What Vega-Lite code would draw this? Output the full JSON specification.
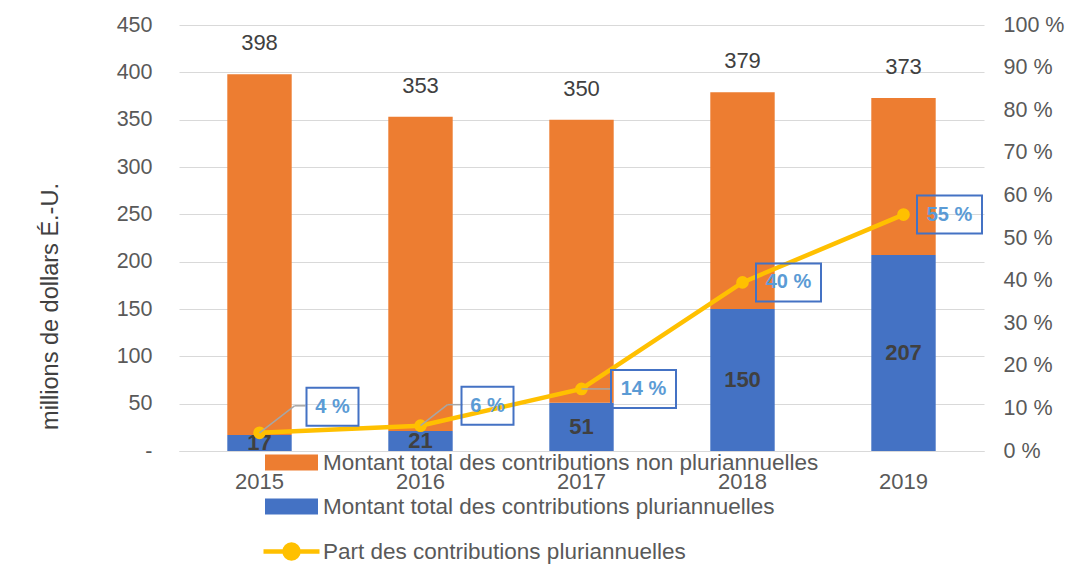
{
  "$schema": "https://vega.github.io/schema/vega-lite/v6.json",
  "width": 805,
  "height": 426,
  "autosize": {"type": "none"},
  "padding": {"left": 179, "top": 25, "right": 85, "bottom": 131},
  "background": "#ffffff",
  "config": {
    "view": {"stroke": null},
    "font": "Liberation Sans",
    "axis": {"labelFont": "Liberation Sans", "titleFont": "Liberation Sans"},
    "legend": {"labelFont": "Liberation Sans"}
  },
  "datasets": {
    "bars": [
      {"year": "2015", "serie": "Montant total des contributions pluriannuelles", "value": 17},
      {"year": "2015", "serie": "Montant total des contributions non pluriannuelles", "value": 381},
      {"year": "2016", "serie": "Montant total des contributions pluriannuelles", "value": 21},
      {"year": "2016", "serie": "Montant total des contributions non pluriannuelles", "value": 332},
      {"year": "2017", "serie": "Montant total des contributions pluriannuelles", "value": 51},
      {"year": "2017", "serie": "Montant total des contributions non pluriannuelles", "value": 299},
      {"year": "2018", "serie": "Montant total des contributions pluriannuelles", "value": 150},
      {"year": "2018", "serie": "Montant total des contributions non pluriannuelles", "value": 229},
      {"year": "2019", "serie": "Montant total des contributions pluriannuelles", "value": 207},
      {"year": "2019", "serie": "Montant total des contributions non pluriannuelles", "value": 166}
    ],
    "summary": [
      {"year": "2015", "pct": 0.0427, "label": "4 %"},
      {"year": "2016", "pct": 0.0595, "label": "6 %"},
      {"year": "2017", "pct": 0.1457, "label": "14 %"},
      {"year": "2018", "pct": 0.3958, "label": "40 %"},
      {"year": "2019", "pct": 0.555, "label": "55 %"}
    ]
  },
  "encoding": {
    "x": {
      "field": "year", "type": "ordinal",
      "scale": {"paddingInner": 0.6, "paddingOuter": 0.3},
      "axis": {"title": null, "labelAngle": 0, "ticks": false, "domain": true, "domainColor": "#D9D9D9", "domainWidth": 1, "labelPadding": 20, "labelFontSize": 22, "labelColor": "#595959", "grid": false}
    }
  },
  "layer": [
    {
      "data": {"name": "bars"},
      "encoding": {
        "y": {
          "field": "value", "type": "quantitative", "stack": "zero",
          "scale": {"domain": [0, 450], "nice": false},
          "axis": {"orient": "left", "values": [0, 50, 100, 150, 200, 250, 300, 350, 400, 450], "labelExpr": "datum.value == 0 ? '-' : datum.label", "grid": true, "gridColor": "#D9D9D9", "gridWidth": 1, "domain": false, "ticks": false, "labelPadding": 27, "labelFontSize": 21.5, "labelColor": "#595959", "title": "millions de dollars É.-U.", "titleFontSize": 23.5, "titleFontWeight": "normal", "titleColor": "#404040", "titleX": -129, "titleY": 281, "titleAlign": "center", "titleBaseline": "middle", "titleAngle": -90}
        },
        "detail": {"field": "serie"},
        "order": {"field": "serie", "sort": "descending"}
      },
      "layer": [
        {
          "mark": {"type": "bar"},
          "encoding": {
            "fill": {
              "field": "serie", "type": "nominal",
              "scale": {"domain": ["Montant total des contributions non pluriannuelles", "Montant total des contributions pluriannuelles"], "range": ["#ED7D31", "#4472C4"]},
              "legend": {"orient": "none", "legendX": 86, "legendY": 411, "direction": "vertical", "title": null, "symbolType": "M-1,-0.3H1V0.3H-1Z", "symbolSize": 2809, "symbolStrokeWidth": 0, "labelFontSize": 22.5, "labelColor": "#595959", "labelLimit": 800, "rowPadding": 6, "labelOffset": 5, "padding": 0}
            }
          }
        },
        {
          "mark": {"type": "text", "fontSize": 22, "fontWeight": "bold", "color": "#404040", "baseline": "middle"},
          "encoding": {
            "y": {
              "field": "value", "type": "quantitative", "stack": "zero", "bandPosition": 0.5,
              "scale": {"domain": [0, 450], "nice": false},
              "axis": {"orient": "left", "values": [0, 50, 100, 150, 200, 250, 300, 350, 400, 450], "labelExpr": "datum.value == 0 ? '-' : datum.label", "grid": true, "gridColor": "#D9D9D9", "gridWidth": 1, "domain": false, "ticks": false, "labelPadding": 27, "labelFontSize": 21.5, "labelColor": "#595959", "title": "millions de dollars É.-U.", "titleFontSize": 23.5, "titleFontWeight": "normal", "titleColor": "#404040", "titleX": -129, "titleY": 281, "titleAlign": "center", "titleBaseline": "middle", "titleAngle": -90}
            },
            "text": {"field": "value", "type": "quantitative"},
            "opacity": {"condition": {"test": "datum.serie === 'Montant total des contributions pluriannuelles'", "value": 1}, "value": 0}
          }
        },
        {
          "mark": {"type": "text", "fontSize": 22, "color": "#404040", "dy": -31, "baseline": "middle"},
          "encoding": {
            "text": {"field": "value_end", "type": "quantitative"},
            "opacity": {"condition": {"test": "datum.serie === 'Montant total des contributions non pluriannuelles'", "value": 1}, "value": 0}
          }
        }
      ]
    },
    {
      "data": {"name": "summary"},
      "encoding": {
        "y": {
          "field": "pct", "type": "quantitative",
          "scale": {"domain": [0, 1], "nice": false},
          "axis": {"orient": "right", "values": [0, 0.1, 0.2, 0.3, 0.4, 0.5, 0.6, 0.7, 0.8, 0.9, 1], "labelExpr": "round(datum.value*100) + ' %'", "grid": false, "domain": false, "ticks": false, "labelPadding": 19, "labelFontSize": 21.5, "labelColor": "#595959", "title": null}
        }
      },
      "layer": [
        {
          "mark": {"type": "line", "strokeWidth": 4.5},
          "encoding": {
            "color": {
              "datum": "Part des contributions pluriannuelles", "type": "nominal",
              "scale": {"range": ["#FFC000"]},
              "legend": {"orient": "none", "legendX": 82, "legendY": 496, "direction": "vertical", "title": null, "symbolType": "M-1,0H1M0.25,0A0.25,0.25,0,1,1,-0.25,0A0.25,0.25,0,1,1,0.25,0Z", "symbolSize": 3136, "symbolStrokeWidth": 4.5, "symbolStrokeColor": "#FFC000", "symbolFillColor": "#FFC000", "labelFontSize": 22.5, "labelColor": "#595959", "labelLimit": 800, "labelOffset": 1, "padding": 0}
            }
          }
        },
        {
          "mark": {"type": "point", "filled": true, "size": 160, "color": "#FFC000", "opacity": 1}
        },
        {
          "transform": [{"filter": "datum.year == '2015'"}],
          "mark": {"type": "rule", "color": "#A6A6A6", "strokeWidth": 1.5, "x2Offset": 35, "y2Offset": -27},
          "encoding": {"x2": {"field": "year"}, "y2": {"field": "pct"}}
        },
        {
          "transform": [{"filter": "datum.year == '2015'"}],
          "mark": {"type": "rule", "color": "#A6A6A6", "strokeWidth": 1.5, "xOffset": 35, "yOffset": -27, "x2Offset": 46, "y2Offset": -27},
          "encoding": {"x2": {"field": "year"}, "y2": {"field": "pct"}}
        },
        {
          "transform": [{"filter": "datum.year == '2016'"}],
          "mark": {"type": "rule", "color": "#A6A6A6", "strokeWidth": 1.5, "x2Offset": 27, "y2Offset": -21},
          "encoding": {"x2": {"field": "year"}, "y2": {"field": "pct"}}
        },
        {
          "transform": [{"filter": "datum.year == '2016'"}],
          "mark": {"type": "rule", "color": "#A6A6A6", "strokeWidth": 1.5, "xOffset": 27, "yOffset": -21, "x2Offset": 42, "y2Offset": -21},
          "encoding": {"x2": {"field": "year"}, "y2": {"field": "pct"}}
        },
        {
          "transform": [{"filter": "datum.year == '2017'"}],
          "mark": {"type": "rule", "color": "#A6A6A6", "strokeWidth": 1.5, "x2Offset": 30},
          "encoding": {"x2": {"field": "year"}, "y2": {"field": "pct"}}
        },
        {
          "transform": [{"filter": "datum.year == '2015'"}],
          "mark": {"type": "point", "shape": "M-1,-0.73H1V0.73H-1Z", "size": 2704, "filled": false, "stroke": "#4472C4", "strokeWidth": 2, "opacity": 1, "xOffset": 73, "yOffset": -26}
        },
        {
          "transform": [{"filter": "datum.year == '2016'"}],
          "mark": {"type": "point", "shape": "M-1,-0.73H1V0.73H-1Z", "size": 2704, "filled": false, "stroke": "#4472C4", "strokeWidth": 2, "opacity": 1, "xOffset": 67, "yOffset": -20}
        },
        {
          "transform": [{"filter": "datum.year == '2017'"}],
          "mark": {"type": "point", "shape": "M-1,-0.585H1V0.585H-1Z", "size": 4225, "filled": false, "stroke": "#4472C4", "strokeWidth": 2, "opacity": 1, "xOffset": 62}
        },
        {
          "transform": [{"filter": "datum.year == '2018' || datum.year == '2019'"}],
          "mark": {"type": "point", "shape": "M-1,-0.585H1V0.585H-1Z", "size": 4225, "filled": false, "stroke": "#4472C4", "strokeWidth": 2, "opacity": 1, "xOffset": 46}
        },
        {
          "transform": [{"filter": "datum.year == '2015'"}],
          "mark": {"type": "text", "fontSize": 20, "fontWeight": "bold", "color": "#5B9BD5", "baseline": "middle", "align": "center", "xOffset": 73, "yOffset": -26},
          "encoding": {"text": {"field": "label"}}
        },
        {
          "transform": [{"filter": "datum.year == '2016'"}],
          "mark": {"type": "text", "fontSize": 20, "fontWeight": "bold", "color": "#5B9BD5", "baseline": "middle", "align": "center", "xOffset": 67, "yOffset": -20},
          "encoding": {"text": {"field": "label"}}
        },
        {
          "transform": [{"filter": "datum.year == '2017'"}],
          "mark": {"type": "text", "fontSize": 20, "fontWeight": "bold", "color": "#5B9BD5", "baseline": "middle", "align": "center", "xOffset": 62},
          "encoding": {"text": {"field": "label"}}
        },
        {
          "transform": [{"filter": "datum.year == '2018' || datum.year == '2019'"}],
          "mark": {"type": "text", "fontSize": 20, "fontWeight": "bold", "color": "#5B9BD5", "baseline": "middle", "align": "center", "xOffset": 46},
          "encoding": {"text": {"field": "label"}}
        }
      ]
    }
  ],
  "resolve": {"scale": {"y": "independent"}}
}
